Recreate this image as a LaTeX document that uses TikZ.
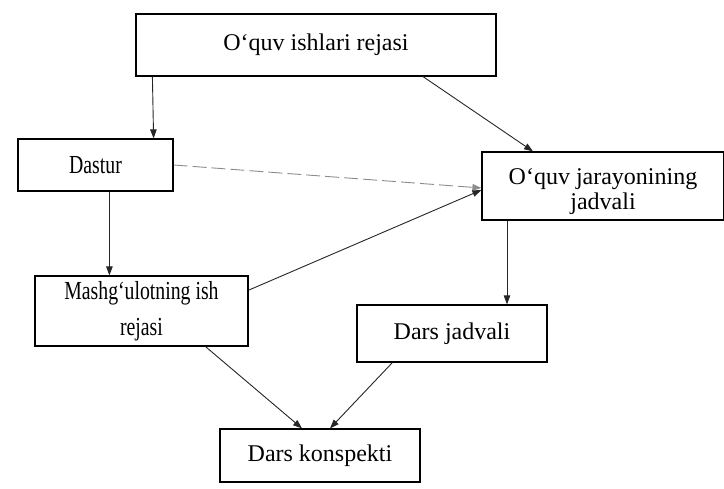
\documentclass[tikz,border=0pt]{standalone}
\usepackage{fontspec}
\setmainfont{Liberation Serif}
\newfontfamily\narrowserif[FakeStretch=0.76]{Liberation Serif}
\usetikzlibrary{arrows.meta,calc}
\begin{document}
\begin{tikzpicture}[x=1pt,y=-1pt,
  box/.style={draw=black,line width=1.2pt,align=center,inner sep=0pt},
  big/.style={font=\fontsize{24}{25}\selectfont},
  tall/.style={font=\narrowserif\fontsize{26}{36}\selectfont},
  link/.style={draw=black!85,line width=0.9pt,-{Triangle[length=9pt,width=6.5pt]}},
  faint/.style={link,draw=black!45,dash pattern=on 14pt off 5pt}]
\useasboundingbox (0,0) rectangle (724,489);
\fill[white] (0,0) rectangle (724,489);

% blocks
\node[box,big,minimum width=360pt,minimum height=62pt] (plan) at (316,45) {O‘quv ishlari rejasi};
\node[box,tall,minimum width=155pt,minimum height=52pt] (dastur) at (95.5,165) {Dastur};
\node[box,big,minimum width=242pt,minimum height=68pt] (jarayon) at (603,186) {\rule{0pt}{28pt}O‘quv jarayonining\\jadvali};
\node[box,tall,minimum width=213pt,minimum height=70pt] (mashg) at (141.5,311) {Mashg‘ulotning ish\\rejasi};
\node[box,big,minimum width=190pt,minimum height=57pt] (djadval) at (452,333.5) {Dars jadvali};
\node[box,big,minimum width=200pt,minimum height=53pt] (konspekt) at (320,455.5) {Dars konspekti};

% connectors
\draw[link] ($(plan.south west)+(17,0)$) -- ($(dastur.north east)+(-20,0)$);
\draw[link] ($(plan.south)+(107,0)$) -- ($(jarayon.north)+(-70,0)$);
\draw[faint] (dastur.east) -- ($(jarayon.west)+(0,2)$);
\draw[link] ($(dastur.south west)+(92,0)$) -- ($(mashg.north west)+(75,0)$);
\draw[link] (mashg.11) -- ($(jarayon.west)+(0,4)$);
\draw[link] ($(jarayon.south)+(-96,0)$) -- ($(djadval.north)+(55,0)$);
\draw[link] ($(mashg.south)+(64,0)$) -- ($(konspekt.north)+(-18,0)$);
\draw[link] ($(djadval.south west)+(36,0)$) -- ($(konspekt.north)+(10,0)$);
\end{tikzpicture}
\end{document}
